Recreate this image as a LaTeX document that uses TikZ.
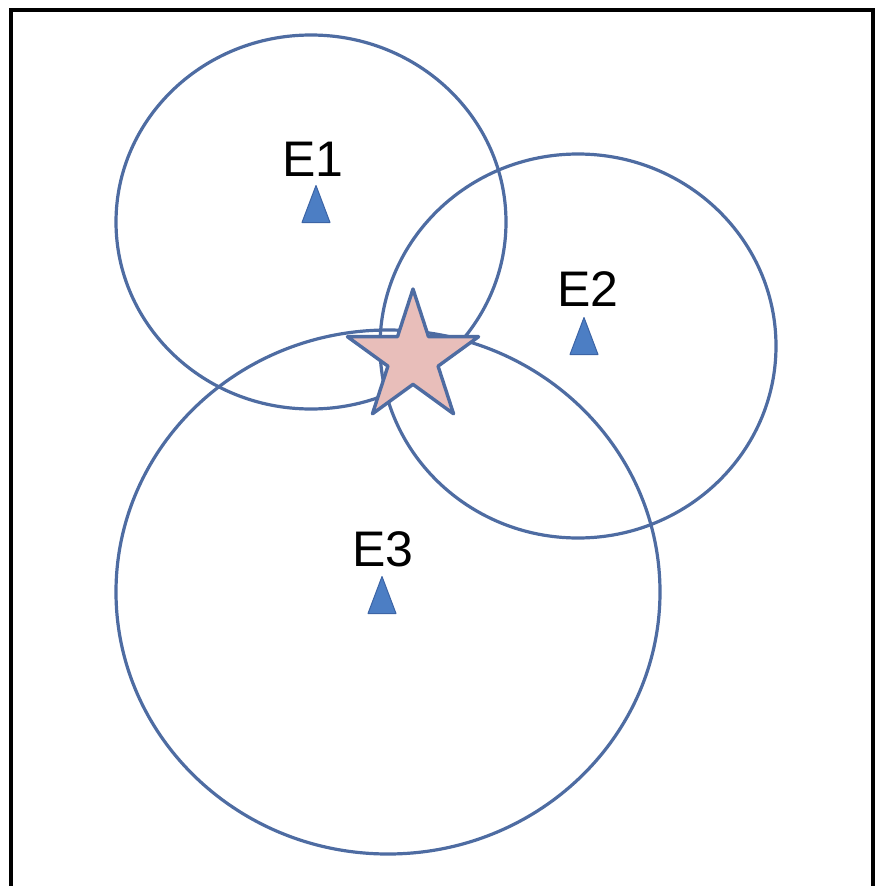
\documentclass[tikz,border=0pt]{standalone}
\usepackage{fontspec}
\setmainfont{Liberation Sans}
\usetikzlibrary{shapes.geometric,positioning}
\definecolor{RingBlue}{RGB}{78,108,162}
\definecolor{MarkBlue}{RGB}{76,126,196}
\definecolor{MarkEdge}{RGB}{60,100,165}
\definecolor{StarPink}{RGB}{232,190,186}

\begin{document}
\begin{tikzpicture}[x=1pt, y=-1pt,
  ring/.style={draw=RingBlue, line width=3.2pt},
  station/.style={fill=MarkBlue, draw=MarkEdge, line width=1pt, line join=round},
  tag/.style={font=\fontsize{50}{50}\selectfont, inner sep=0pt}
]
  \useasboundingbox (0,0) rectangle (879,886);
  % frame, open at the bottom
  \draw[line width=3.6pt] (11,886) |- (873,10) -- (873,886);

  % ranges round the three stations
  \coordinate (c1) at (311,222);
  \coordinate (c2) at (578,346);
  \coordinate (c3) at (388,592);
  \draw[ring] (c1) ellipse [x radius=195, y radius=187];
  \draw[ring] (c2) ellipse [x radius=198, y radius=192];
  \draw[ring] (c3) ellipse [x radius=272, y radius=262];

  % stations
  \coordinate (s1) at (316,204);
  \coordinate (s2) at (584,336);
  \coordinate (s3) at (382,595);
  \foreach \s in {s1,s2,s3}
    \draw[station] (\s) ++(0,-18.5) -- ++(14,37) -- ++(-28,0) -- cycle;

  \node[tag] (e1) at (313,159) {E1};
  \node[tag] (e2) at (588,289) {E2};
  \node[tag] (e3) at (383,549) {E3};

  % estimated position
  \node[star, star points=5, star point ratio=2.618, minimum size=138pt,
        inner sep=0pt, fill=StarPink, draw=RingBlue, line width=3.4pt,
        line join=round] (target) at (413,358) {};
\end{tikzpicture}
\end{document}
